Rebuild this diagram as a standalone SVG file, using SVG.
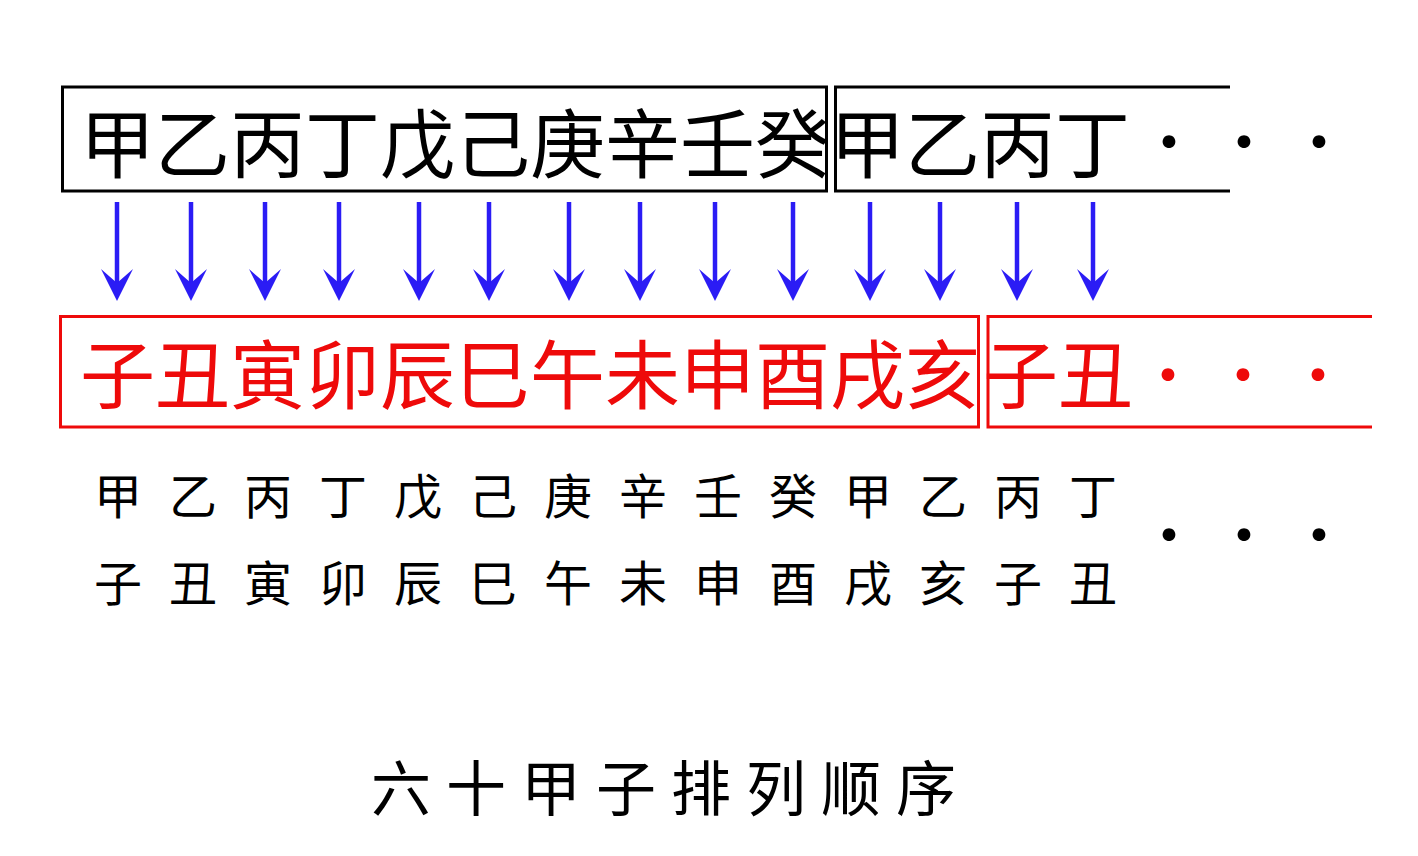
<svg xmlns="http://www.w3.org/2000/svg" xmlns:xlink="http://www.w3.org/1999/xlink" width="1418" height="856" viewBox="0 0 1418 856">
  <style>
    .cjk { font-family: "Noto Sans CJK SC", "Noto Sans CJK TC", sans-serif; }
    .big { font-size: 75px; }
    .dot { font-size: 60px; letter-spacing: 0; }
    .small { font-size: 48px; letter-spacing: 27px; }
    .title { font-size: 60px; letter-spacing: 15px; }
    .boxk { fill: none; stroke: #000; stroke-width: 3; }
    .boxr { fill: none; stroke: #EE0A0A; stroke-width: 3; }
    .red { fill: #EE0A0A; }
    .blk { fill: #000; }
  </style>
  <defs>
    <g id="arrow">
      <line x1="0" y1="202" x2="0" y2="284" stroke="#2B1CF5" stroke-width="4.5"/>
      <polygon points="-16,269 0,301 16,269 0,283" fill="#2B1CF5"/>
    </g>
  </defs>
  <rect width="1418" height="856" fill="#fff"/>

  <g id="stems1">
    <rect class="boxk" x="62.5" y="87" width="764" height="104"/>
    <text class="cjk big blk" x="80" y="172">甲乙丙丁戊己庚辛壬癸</text>
  </g>
  <g id="stems2">
    <path class="boxk" d="M1230,87 H835.5 V191 H1230"/>
    <text class="cjk big blk" x="830" y="172">甲乙丙丁<tspan class="dot" x="1139 1214 1289" y="165">・・・</tspan></text>
  </g>

  <g id="connectors">
    <use xlink:href="#arrow" x="117"/>
    <use xlink:href="#arrow" x="191"/>
    <use xlink:href="#arrow" x="265"/>
    <use xlink:href="#arrow" x="339"/>
    <use xlink:href="#arrow" x="419"/>
    <use xlink:href="#arrow" x="489"/>
    <use xlink:href="#arrow" x="569"/>
    <use xlink:href="#arrow" x="640"/>
    <use xlink:href="#arrow" x="715"/>
    <use xlink:href="#arrow" x="793"/>
    <use xlink:href="#arrow" x="870"/>
    <use xlink:href="#arrow" x="940"/>
    <use xlink:href="#arrow" x="1017"/>
    <use xlink:href="#arrow" x="1093"/>
  </g>

  <g id="branches1">
    <rect class="boxr" x="60.5" y="316.5" width="918" height="110.5"/>
    <text class="cjk big red" x="80" y="403">子丑寅卯辰巳午未申酉戌亥</text>
  </g>
  <g id="branches2">
    <path class="boxr" d="M1372,316.5 H988 V427 H1372"/>
    <text class="cjk big red" x="983" y="403">子丑<tspan class="dot" x="1138 1213 1288" y="398">・・・</tspan></text>
  </g>

  <g id="pairs">
    <text class="cjk small blk" x="94" y="514">甲乙丙丁戊己庚辛壬癸甲乙丙丁</text>
    <text class="cjk small blk" x="94" y="601">子丑寅卯辰巳午未申酉戌亥子丑</text>
    <text class="cjk dot blk" x="1139 1214 1289" y="558">・・・</text>
  </g>

  <g id="title">
    <text class="cjk title blk" x="371" y="811">六十甲子排列顺序</text>
  </g>
</svg>
